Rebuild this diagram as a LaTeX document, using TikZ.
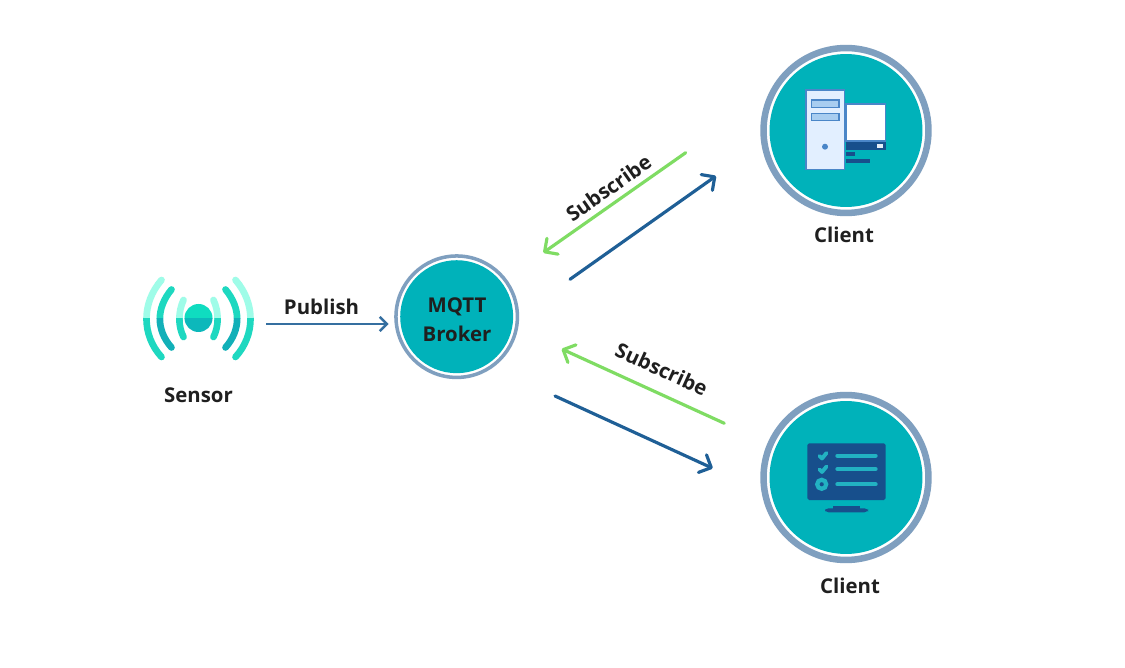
\documentclass[tikz,border=0pt]{standalone}
\usepackage{fontspec}
\setmainfont{Open Sans}
\usetikzlibrary{arrows.meta}
\definecolor{tealfill}{HTML}{00B2BA}
\definecolor{ringblue}{HTML}{7F9FBF}
\definecolor{arrowblue}{HTML}{1F5F96}
\definecolor{arrowgreen}{HTML}{7FDC63}
\definecolor{navy}{HTML}{174F8C}
\definecolor{towerfill}{HTML}{E2EFFF}
\definecolor{iconedge}{HTML}{4A86C8}
\definecolor{slotfill}{HTML}{A8CDF0}
\definecolor{listline}{HTML}{22B2C2}
\definecolor{waveLight}{HTML}{9FFCE8}
\definecolor{waveMid}{HTML}{1ED8C0}
\definecolor{waveDark}{HTML}{12B0B8}
\definecolor{dotTop}{HTML}{0FDCC0}
\definecolor{dotLow}{HTML}{0CB8BB}
\tikzset{
  label text/.style={font=\fontsize{11.6pt}{14pt}\selectfont\bfseries, text=black!88, align=center, inner sep=0pt},
  big ring/.style={circle, draw=ringblue, line width=3.7pt, fill=white, minimum size=165pt*0.569, inner sep=0pt},
  big disc/.style={circle, fill=tealfill, minimum size=153pt*0.569, inner sep=0pt},
  small ring/.style={circle, draw=ringblue, line width=2pt, fill=white, minimum size=121.5pt*0.569, inner sep=0pt},
  small disc/.style={circle, fill=tealfill, minimum size=113pt*0.569, inner sep=0pt},
  thin flow/.style={draw=arrowblue!90!white, line width=1.4pt, -{Straight Barb[length=4pt,width=8pt,line width=1.4pt]}},
  blue flow/.style={draw=arrowblue, line width=1.8pt, line cap=round, -{Straight Barb[length=5.5pt,width=11pt,line width=1.8pt,round]}},
  green flow/.style={draw=arrowgreen, line width=1.8pt, line cap=round, -{Straight Barb[length=5.5pt,width=11pt,line width=1.8pt,round]}},
  wave/.style={line width=3.8pt, line cap=round},
  list bar/.style={draw=listline, line width=2.5pt, line cap=round},
}
\begin{document}
\begin{tikzpicture}[x=0.02cm, y=-0.02cm]
\useasboundingbox (0,0) rectangle (1125,668);
\fill[white] (0,0) rectangle (1125,668);

% Sensor: three pairs of waves around a dot, lighter above the mid line
\newcommand{\sensorwaves}[3]{%
  \draw[wave,draw=#1] (183.5,300) .. controls (178,312) and (178,326) .. (183.5,337);
  \draw[wave,draw=#1] (213.5,300) .. controls (219,312) and (219,326) .. (213.5,337);
  \draw[wave,draw=#2] (171.5,289.5) .. controls (156,308) and (156,330) .. (171.5,347.5);
  \draw[wave,draw=#2] (225.5,289.5) .. controls (241,308) and (241,330) .. (225.5,347.5);
  \draw[wave,draw=#3] (161.5,280) .. controls (141.5,303) and (141.5,335) .. (161.5,357);
  \draw[wave,draw=#3] (235.5,280) .. controls (255.5,303) and (255.5,335) .. (235.5,357);
}
\begin{scope}
  \clip (120,260) rectangle (280,318.5);
  \sensorwaves{waveLight}{waveMid}{waveLight}
  \fill[dotTop] (198.5,318) circle (14);
\end{scope}
\begin{scope}
  \clip (120,318.5) rectangle (280,375);
  \sensorwaves{waveMid}{waveDark}{waveMid}
  \fill[dotLow] (198.5,318) circle (14);
\end{scope}
\node[label text] (sensor) at (198.5,395) {Sensor};

% Broker
\node[small ring] (brokerring) at (456.7,316.7) {};
\node[small disc] (broker) at (456.7,316.7) {};
\node[label text] (brokertop) at (457,307) {MQTT};
\node[label text] (brokerbottom) at (457,334) {Broker};

% Upper client: tower and desktop monitor
\node[big ring] (clientAring) at (846,130.5) {};
\node[big disc] (clientA) at (846,130.5) {};
\draw[iconedge, fill=towerfill, line width=0.8pt] (806,90) rectangle (844.3,169.3);
\draw[iconedge, fill=slotfill, line width=0.8pt] (811.7,100) rectangle (839,107.3);
\draw[iconedge, fill=slotfill, line width=0.8pt] (811.7,113.3) rectangle (839,120.7);
\fill[iconedge] (825,146.7) circle (3);
\draw[iconedge, fill=white, line width=0.8pt] (846,104) rectangle (885.7,141);
\fill[navy] (846,142.3) rectangle (885.7,150);
\fill[white!85!iconedge] (877,144.3) rectangle (882.7,147.7);
\fill[navy] (846,151.7) rectangle (855,155.7);
\fill[navy] (846,158.7) rectangle (870,162.7);
\node[label text] (clientAlabel) at (844,235) {Client};

% Lower client: monitor showing a check list
\node[big ring] (clientBring) at (846,477.5) {};
\node[big disc] (clientB) at (846,477.5) {};
\fill[navy, rounded corners=1pt] (807.3,443.3) rectangle (885.7,500);
\fill[navy] (832.7,505.5) rectangle (860,509);
\fill[navy, rounded corners=2pt] (825,508.3) rectangle (868,512.3);
\draw[list bar] (837.5,455.7) -- (875.5,455.7);
\draw[list bar] (837.5,469) -- (875.5,469);
\draw[list bar] (837.5,484.3) -- (875.5,484.3);
\draw[listline, line width=2.2pt, line cap=round, line join=round] (819.5,456) -- (822,458.5) -- (826.5,453);
\draw[listline, line width=2.2pt, line cap=round, line join=round] (819.5,469.5) -- (822,472) -- (826.5,466.5);
\draw[listline, line width=2.4pt] (821.7,484.3) circle (4.5);
\node[label text] (clientBlabel) at (850,586) {Client};

% Connector end points
\coordinate (pubstart) at (266,324);
\coordinate (pubend) at (388.5,324);
\coordinate (greenAstart) at (685.7,152.7);
\coordinate (greenAend) at (543.3,252.7);
\coordinate (blueAstart) at (570,279.3);
\coordinate (blueAend) at (716,176);
\coordinate (greenBstart) at (724.3,423.3);
\coordinate (greenBend) at (561.7,349);
\coordinate (blueBstart) at (555,396);
\coordinate (blueBend) at (712.7,468.3);

% Connectors and their labels
\draw[thin flow] (pubstart) -- (pubend);
\node[label text] (publish) at (321.5,307) {Publish};
\draw[green flow] (greenAstart) -- (greenAend);
\draw[blue flow] (blueAstart) -- (blueAend);
\node[label text, rotate=35] (subA) at (608.5,188) {Subscribe};
\draw[green flow] (greenBstart) -- (greenBend);
\draw[blue flow] (blueBstart) -- (blueBend);
\node[label text, rotate=-24.5] (subB) at (661.7,369) {Subscribe};
\end{tikzpicture}
\end{document}
